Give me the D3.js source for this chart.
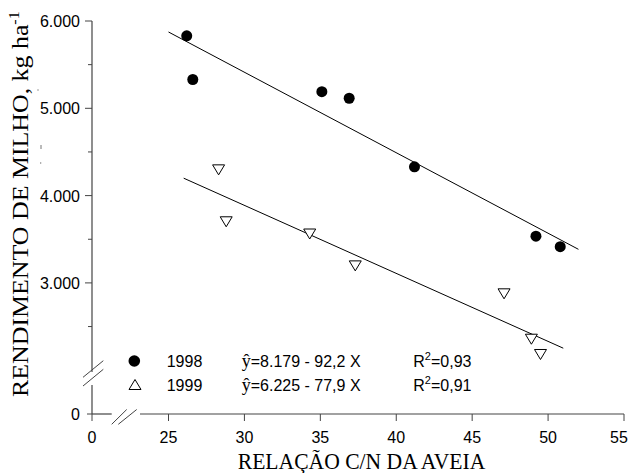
<!DOCTYPE html>
<html>
<head>
<meta charset="utf-8">
<script src="https://cdn.jsdelivr.net/npm/d3@7"></script>
<style>
  body { margin: 0; background: #fff; }
  svg { display: block; }
</style>
</head>
<body>
<script>
// valores
var x1998 = [26.2, 26.6, 35.1, 36.9, 41.2, 49.2, 50.8];
var y1998 = [5830, 5330, 5190, 5115, 4330, 3535, 3415];
var x1999 = [28.3, 28.8, 34.3, 37.3, 47.1, 48.9, 49.5];
var y1999 = [4295, 3700, 3560, 3195, 2875, 2355, 2180];

var anos = ["1998", "1999"];
var intercepto = [8179, 6225];
var inclinacao = [-92.2, -77.9];
var faixaX = [[25, 52], [26, 51]];
var equacoes = ["=8.179 - 92,2 X", "=6.225 - 77,9 X"];
var r2 = ["=0,93", "=0,91"];

var xTicks = [25, 30, 35, 40, 45, 50, 55];
var yTicks = [3000, 4000, 5000, 6000];
var yMinor = [2500, 3500, 4500, 5500];

var W = 628, H = 473;
var svg = d3.select("body").append("svg").attr("width", W).attr("height", H);

var x = d3.scaleLinear().domain([25, 55]).range([168.5, 624]);
var y = d3.scaleLinear().domain([2000, 6000]).range([370.2, 21]);
var x0 = 92, y0 = 414; // origem (eixos quebrados)

var axisCol = "#444";
var sans = "'Liberation Sans', Arial, sans-serif";
var serif = "'Liberation Serif', 'Times New Roman', serif";

// eixo y - parte de cima
svg.append("line").attr("x1", x0).attr("x2", x0).attr("y1", y(6000)).attr("y2", 372)
  .attr("stroke", axisCol).attr("stroke-width", 1.2);
svg.append("line").attr("x1", x0).attr("x2", x0).attr("y1", 385).attr("y2", y0)
  .attr("stroke", axisCol).attr("stroke-width", 1.2);
// quebra y
[[377.3, 360.7], [386, 369.3]].forEach(function(s) {
  svg.append("line").attr("x1", 83).attr("y1", s[0]).attr("x2", 103.3).attr("y2", s[1])
    .attr("stroke", axisCol).attr("stroke-width", 1);
});

// eixo x
svg.append("line").attr("x1", x0).attr("x2", 111.7).attr("y1", y0).attr("y2", y0)
  .attr("stroke", axisCol).attr("stroke-width", 1.2);
svg.append("line").attr("x1", 140).attr("x2", x(55)).attr("y1", y0).attr("y2", y0)
  .attr("stroke", axisCol).attr("stroke-width", 1.2);
[[111.7, 126.7], [118.3, 136.7]].forEach(function(s) {
  svg.append("line").attr("x1", s[0]).attr("y1", 424.3).attr("x2", s[1]).attr("y2", 409.5)
    .attr("stroke", axisCol).attr("stroke-width", 1);
});

// ticks x
var gx = svg.append("g");
gx.selectAll("line").data(xTicks).enter().append("line")
  .attr("x1", function(d) { return x(d); }).attr("x2", function(d) { return x(d); })
  .attr("y1", y0).attr("y2", y0 + 7).attr("stroke", axisCol);
gx.append("line").attr("x1", x0).attr("x2", x0).attr("y1", y0).attr("y2", y0 + 7).attr("stroke", axisCol);
gx.selectAll("text").data(xTicks).enter().append("text")
  .attr("x", function(d) { return Math.min(x(d), W - 9); }).attr("y", 443)
  .attr("text-anchor", "middle").style("font-family", sans).style("font-size", "16px")
  .text(function(d) { return d; });
gx.append("text").attr("x", x0).attr("y", 443).attr("text-anchor", "middle")
  .style("font-family", sans).style("font-size", "16px").text("0");

// ticks y
var fmt = function(d) { return d3.format(",")(d).replace(",", "."); };
var gy = svg.append("g");
gy.selectAll("line.maj").data(yTicks).enter().append("line")
  .attr("x1", x0 - 7).attr("x2", x0)
  .attr("y1", function(d) { return y(d); }).attr("y2", function(d) { return y(d); })
  .attr("stroke", axisCol);
gy.selectAll("line.min").data(yMinor).enter().append("line")
  .attr("x1", x0 - 4).attr("x2", x0)
  .attr("y1", function(d) { return y(d); }).attr("y2", function(d) { return y(d); })
  .attr("stroke", axisCol);
gy.append("line").attr("x1", x0 - 5).attr("x2", x0).attr("y1", y0).attr("y2", y0).attr("stroke", axisCol);
gy.selectAll("text").data(yTicks).enter().append("text")
  .attr("x", 80).attr("y", function(d) { return y(d) + 6; })
  .attr("text-anchor", "end").style("font-family", sans).style("font-size", "16px")
  .text(fmt);
gy.append("text").attr("x", 80).attr("y", y0 + 6).attr("text-anchor", "end")
  .style("font-family", sans).style("font-size", "16px").text("0");

// titulos
svg.append("g").attr("transform", "translate(361.5,468.5) scale(0.94,1)")
  .append("text").attr("text-anchor", "middle")
  .style("font-family", serif).style("font-size", "23px")
  .text("RELAÇÃO C/N DA AVEIA");

var yt = svg.append("g").attr("transform", "translate(28.3,397) rotate(-90) scale(1.14,1)")
  .append("text").style("font-family", serif).style("font-size", "22.7px");
yt.append("tspan").text("RENDIMENTO DE MILHO, kg ha");
yt.append("tspan").attr("dy", -9).style("font-size", "14px").text("-1");

// pequenas marcas perdidas perto do titulo
svg.append("line").attr("x1", 41).attr("x2", 41).attr("y1", 145).attr("y2", 149).attr("stroke", "#777");
svg.append("circle").attr("cx", 38).attr("cy", 90).attr("r", 0.7).attr("fill", "#777");
svg.append("circle").attr("cx", 40.7).attr("cy", 163).attr("r", 0.7).attr("fill", "#777");

// retas de regressao
anos.forEach(function(a, i) {
  var f = function(v) { return intercepto[i] + inclinacao[i] * v; };
  svg.append("line")
    .attr("x1", x(faixaX[i][0])).attr("y1", y(f(faixaX[i][0])))
    .attr("x2", x(faixaX[i][1])).attr("y2", y(f(faixaX[i][1])))
    .attr("stroke", "#000").attr("stroke-width", 1);
});

// pontos 1998
svg.selectAll("circle.p98").data(x1998).enter().append("circle")
  .attr("cx", function(d) { return x(d); })
  .attr("cy", function(d, i) { return y(y1998[i]); })
  .attr("r", 5.5).attr("fill", "#000");

// pontos 1999 (triangulo invertido)
var triDown = "M-6,-5L6,-5L0,5Z";
var triUp = "M-6,5L6,5L0,-5Z";
svg.selectAll("path.p99").data(x1999).enter().append("path")
  .attr("d", triDown)
  .attr("transform", function(d, i) { return "translate(" + x(d) + "," + y(y1999[i]) + ")"; })
  .attr("fill", "#fff").attr("stroke", "#000").attr("stroke-width", 1);

// legenda
var legY = [361, 384.5];
svg.append("circle").attr("cx", 134.3).attr("cy", legY[0]).attr("r", 5.8).attr("fill", "#000");
svg.append("path").attr("d", triUp).attr("transform", "translate(135," + legY[1] + ")")
  .attr("fill", "#fff").attr("stroke", "#000");

anos.forEach(function(a, i) {
  var by = legY[i] + 6;
  svg.append("text").attr("x", 166.7).attr("y", by)
    .style("font-family", sans).style("font-size", "16px").text(a);
  var t = svg.append("text").attr("x", 241.7).attr("y", by)
    .style("font-family", sans).style("font-size", "16px");
  t.append("tspan").style("font-family", serif).style("font-size", "18px").text("ŷ");
  t.append("tspan").text(equacoes[i]);
  var r = svg.append("text").attr("x", 413.3).attr("y", by)
    .style("font-family", sans).style("font-size", "16px");
  r.append("tspan").text("R");
  r.append("tspan").attr("dy", -7).style("font-size", "11px").text("2");
  r.append("tspan").attr("dy", 7).text(r2[i]);
});
</script>
</body>
</html>
